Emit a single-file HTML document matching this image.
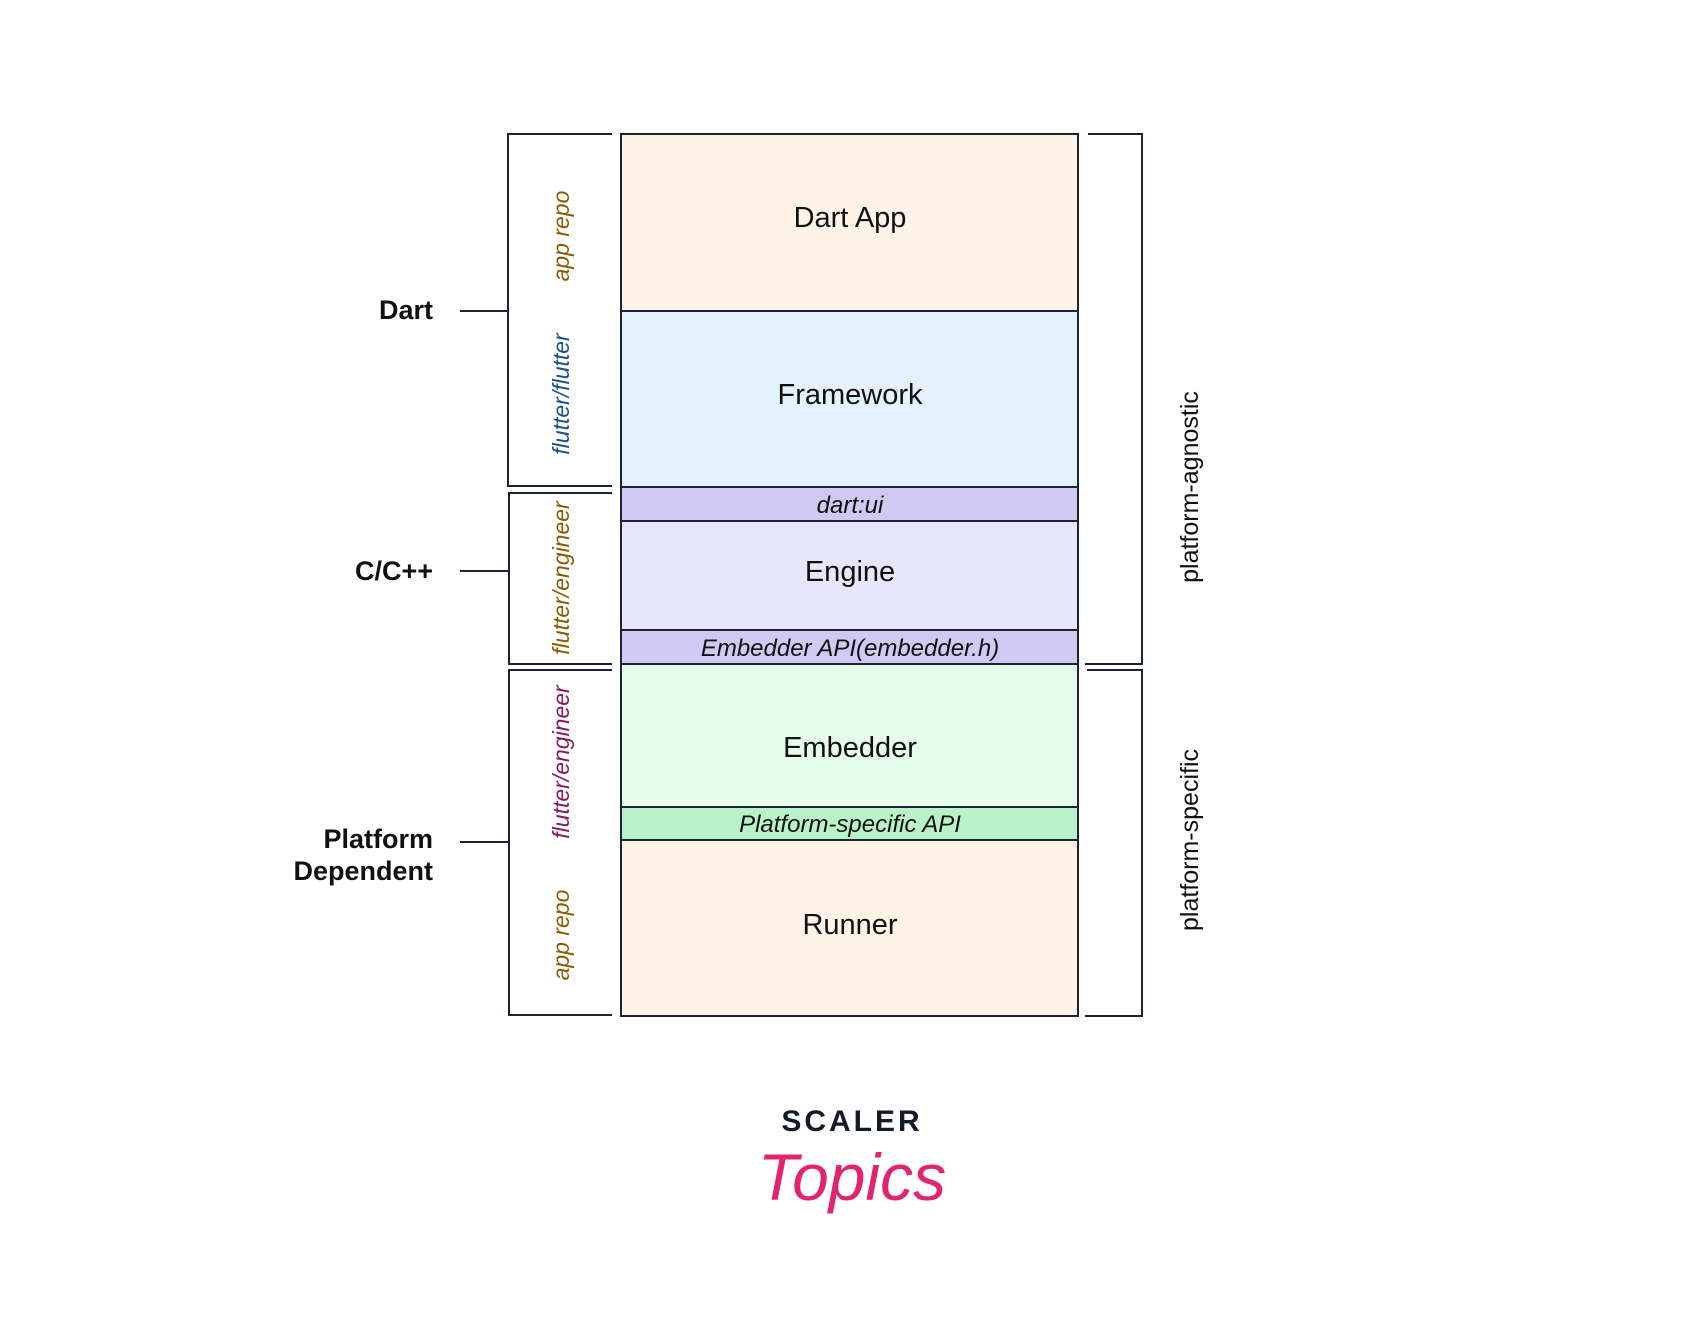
<!DOCTYPE html>
<html><head><style>
html,body{margin:0;padding:0;background:#fff;}
svg{display:block;}
text{font-family:"Liberation Sans",sans-serif;}
</style></head><body>
<svg width="1700" height="1325" viewBox="0 0 1700 1325" xmlns="http://www.w3.org/2000/svg">
<g stroke="#1c2333" stroke-width="2">
<rect x="621" y="134" width="457" height="177" fill="#fdf3e6"/>
<rect x="621" y="311" width="457" height="176" fill="#e3f2fd"/>
<rect x="621" y="487" width="457" height="34" fill="#d0c9f2"/>
<rect x="621" y="521" width="457" height="109" fill="#e8e6fc"/>
<rect x="621" y="630" width="457" height="34" fill="#d0c9f2"/>
<rect x="621" y="664" width="457" height="143" fill="#e6fcea"/>
<rect x="621" y="807" width="457" height="33" fill="#b9f2c9"/>
<rect x="621" y="840" width="457" height="176" fill="#fdf3e6"/>
</g>
<g stroke="#1c2333" stroke-width="2" fill="none">
<polyline points="612,134 508,134 508,486 612,486"/>
<polyline points="612,493 509,493 509,664 612,664"/>
<polyline points="612,670 509,670 509,1015 612,1015"/>
<polyline points="1088,134 1142,134 1142,664 1085,664"/>
<polyline points="1087,670 1142,670 1142,1016 1085,1016"/>
<line x1="460" y1="311" x2="508" y2="311"/>
<line x1="460" y1="571" x2="509" y2="571"/>
<line x1="460" y1="842" x2="509" y2="842"/>
</g>
<g font-size="29" fill="#111" text-anchor="middle">
<text x="850" y="227">Dart App</text>
<text x="850" y="404">Framework</text>
<text x="850" y="581">Engine</text>
<text x="850" y="757">Embedder</text>
<text x="850" y="934">Runner</text>
</g>
<g font-size="24" font-style="italic" fill="#111" text-anchor="middle">
<text x="850" y="513">dart:ui</text>
<text x="850" y="656">Embedder API(embedder.h)</text>
<text x="850" y="832">Platform-specific API</text>
</g>
<g font-size="27" font-weight="bold" fill="#111" text-anchor="end">
<text x="433" y="319">Dart</text>
<text x="433" y="580">C/C++</text>
<text x="433" y="848">Platform</text>
<text x="433" y="880">Dependent</text>
</g>
<g font-size="23" font-style="italic" text-anchor="middle">
<text transform="translate(569,236) rotate(-90)" fill="#8a5a00">app repo</text>
<text transform="translate(569,394) rotate(-90)" fill="#1a4f8f">flutter/flutter</text>
<text transform="translate(569,578) rotate(-90)" fill="#8a5a00">flutter/engineer</text>
<text transform="translate(569,762) rotate(-90)" fill="#8a1a5a">flutter/engineer</text>
<text transform="translate(569,935) rotate(-90)" fill="#8a5a00">app repo</text>
</g>
<g font-size="25" fill="#111" text-anchor="middle">
<text transform="translate(1198,487) rotate(-90)">platform-agnostic</text>
<text transform="translate(1198,840) rotate(-90)">platform-specific</text>
</g>
<text x="852" y="1131" font-size="30" font-weight="bold" fill="#131a2a" text-anchor="middle" letter-spacing="3">SCALER</text>
<text x="852" y="1200" font-size="66" font-style="italic" fill="#e0246f" text-anchor="middle" font-family="Liberation Serif, serif">Topics</text>
</svg>
</body></html>
